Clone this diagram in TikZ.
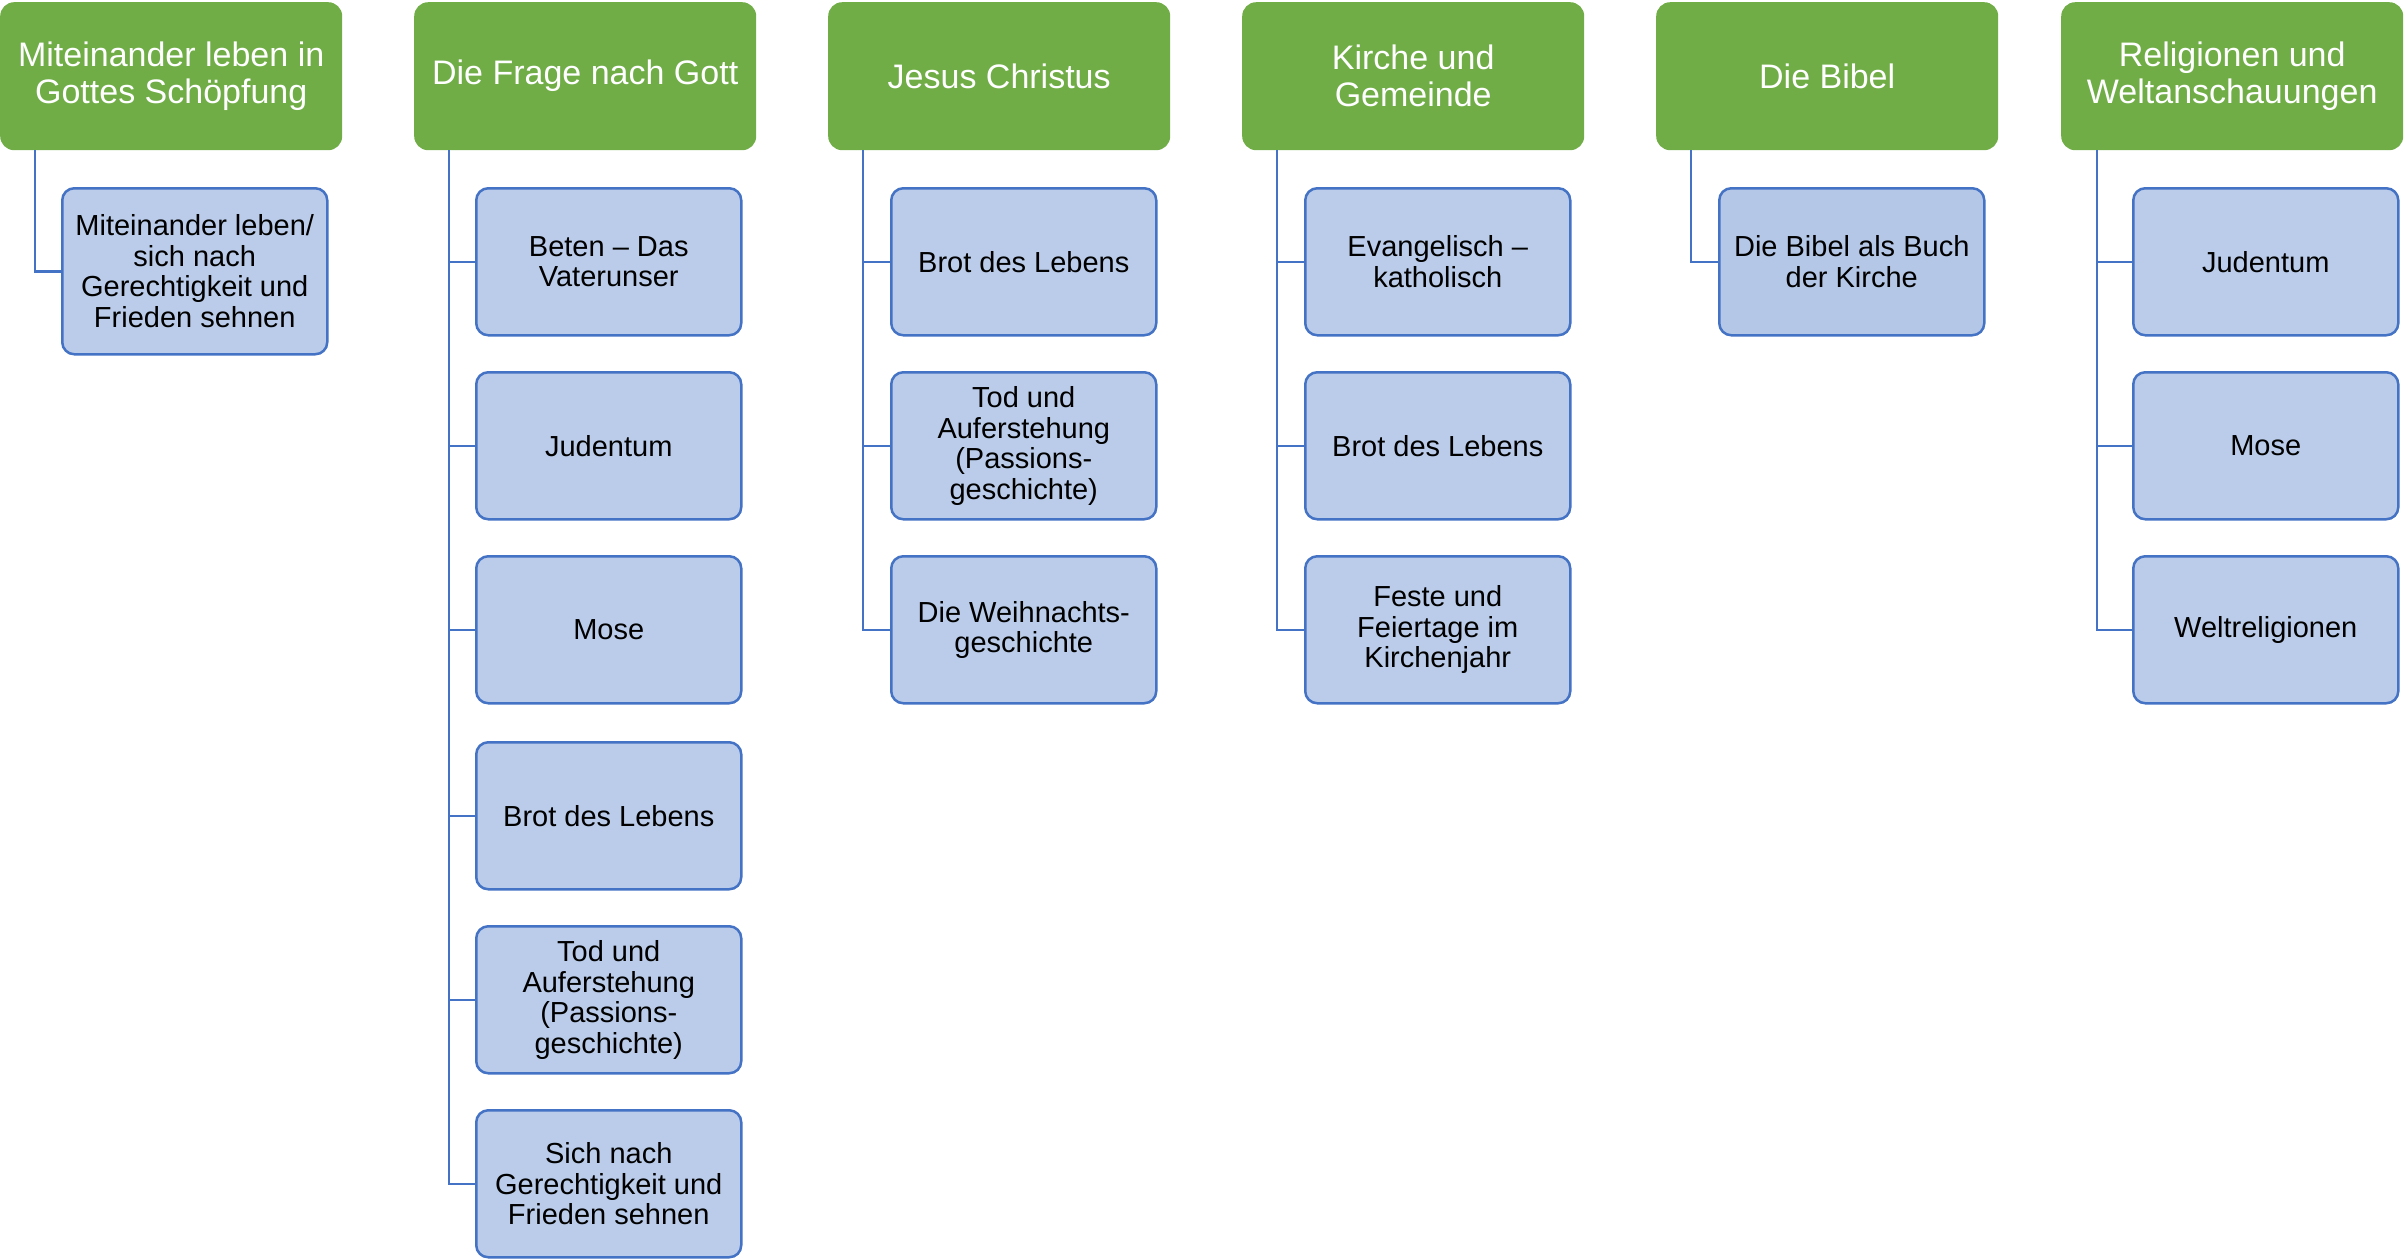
\documentclass[tikz,border=0pt]{standalone}
\usepackage{fontspec}
\setmainfont{Liberation Sans}
\definecolor{grn}{HTML}{70AD47}
\definecolor{bfill}{HTML}{BACCE9}
\definecolor{bfillb}{HTML}{B4C7E7}
\definecolor{bline}{HTML}{4472C4}
\begin{document}
\begin{tikzpicture}[x=1pt,y=-1pt,
  head/.style={anchor=north west,fill=grn,draw=none,rounded corners=14pt,
    minimum width=342pt,minimum height=148pt,inner sep=0pt,align=center,
    text=white,font=\fontsize{34}{37}\selectfont},
  child/.style={anchor=north west,fill=bfill,draw=bline,line width=2.5pt,rounded corners=12pt,
    minimum width=265pt,minimum height=147pt,inner sep=0pt,align=center,
    text=black,font=\fontsize{29}{30.5}\selectfont},
  conn/.style={draw=bline,line width=2.5pt}]
\useasboundingbox (0,0) rectangle (2405,1259);
% headers
\node[head] (g1) at (0,2) {Miteinander leben in\\Gottes Schöpfung};
\node[head] (g2) at (414,2) {Die Frage nach Gott};
\node[head] (g3) at (828,2) {Jesus Christus};
\node[head] (g4) at (1242,2) {Kirche und\\Gemeinde};
\node[head] (g5) at (1656,2) {Die Bibel};
\node[head] (g6) at (2061,2) {Religionen und\\Weltanschauungen};
% column 1
\node[child,minimum height=166pt] (c1a) at (61,187) {Miteinander leben/\\sich nach\\Gerechtigkeit und\\Frieden sehnen};
% column 2
\node[child] (c2a) at (475,187) {Beten – Das\\Vaterunser};
\node[child] (c2b) at (475,371) {Judentum};
\node[child] (c2c) at (475,555) {Mose};
\node[child] (c2d) at (475,741) {Brot des Lebens};
\node[child] (c2e) at (475,925) {Tod und\\Auferstehung\\(Passions-\\geschichte)};
\node[child] (c2f) at (475,1109) {Sich nach\\Gerechtigkeit und\\Frieden sehnen};
% column 3
\node[child] (c3a) at (890,187) {Brot des Lebens};
\node[child] (c3b) at (890,371) {Tod und\\Auferstehung\\(Passions-\\geschichte)};
\node[child] (c3c) at (890,555) {Die Weihnachts-\\geschichte};
% column 4
\node[child] (c4a) at (1304,187) {Evangelisch –\\katholisch};
\node[child] (c4b) at (1304,371) {Brot des Lebens};
\node[child] (c4c) at (1304,555) {Feste und\\Feiertage im\\Kirchenjahr};
% column 5
\node[child,fill=bfillb] (c5a) at (1718,187) {Die Bibel als Buch\\der Kirche};
% column 6
\node[child] (c6a) at (2132,187) {Judentum};
\node[child] (c6b) at (2132,371) {Mose};
\node[child] (c6c) at (2132,555) {Weltreligionen};
% connectors
\draw[conn] ([xshift=35pt]g1.south west) |- (c1a.west);
\foreach \c in {c2a,c2b,c2c,c2d,c2e,c2f}
  \draw[conn] ([xshift=35pt]g2.south west) |- (\c.west);
\foreach \c in {c3a,c3b,c3c}
  \draw[conn] ([xshift=35pt]g3.south west) |- (\c.west);
\foreach \c in {c4a,c4b,c4c}
  \draw[conn] ([xshift=35pt]g4.south west) |- (\c.west);
\draw[conn] ([xshift=35pt]g5.south west) |- (c5a.west);
\foreach \c in {c6a,c6b,c6c}
  \draw[conn] ([xshift=36pt]g6.south west) |- (\c.west);
\end{tikzpicture}
\end{document}
